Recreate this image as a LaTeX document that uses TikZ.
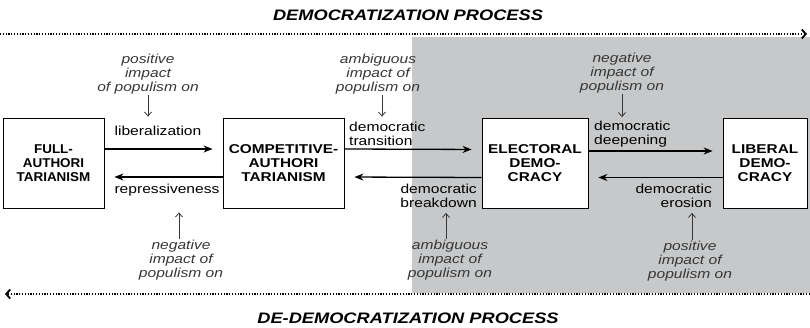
\documentclass[tikz,border=0pt]{standalone}
\usepackage{fontspec}
\setmainfont[FakeStretch=1.2]{Liberation Sans}
\newfontfamily\narrowsans[FakeStretch=1.05]{Liberation Sans}
\usetikzlibrary{arrows.meta,positioning}

\begin{document}
\begin{tikzpicture}[x=1pt, y=-1pt, >={Stealth[length=9pt,width=7pt]}]

        \def\boxh{90}           % height of the regime boxes
        \def\upper{14}          % forward arrows sit this far above the box middle
        \definecolor{panelgray}{RGB}{198,200,202}
        \definecolor{impactgray}{RGB}{55,55,55}
        \tikzstyle{regime}=[draw=black, line width=0.8pt, fill=white, minimum height=\boxh, align=center, inner sep=2pt, font=\fontsize{12.8}{14}\selectfont\bfseries]
        \tikzstyle{edgetext}=[inner sep=3pt, font=\fontsize{13}{13.5}\selectfont]
        \tikzstyle{impact}=[inner sep=1pt, align=center, text=impactgray, font=\fontsize{13}{14}\selectfont\itshape]
        \tikzstyle{heading}=[font=\fontsize{15.2}{18}\selectfont\bfseries\itshape]
        \tikzset{flow/.style = {->, line width=1.3pt, shorten >=10pt}}
        \tikzset{nudge/.style = {-{Straight Barb[length=4pt,width=7pt]}, line width=0.8pt, draw=impactgray}}
        \tikzset{process/.style = {-{Straight Barb[length=4pt,width=9pt,line width=1.8pt]}, line width=1.2pt, dash pattern=on 1.2pt off 1.6pt}}

        \useasboundingbox (0,0) rectangle (810,328);

        % Shaded democratic half
        \fill[panelgray] (412,37) rectangle (810,293);

        % Process headings and dotted timelines
        \node[heading] (demtitle) at (408,15) {DEMOCRATIZATION PROCESS};
        \node[heading] (dedemtitle) at (408,318) {DE-DEMOCRATIZATION PROCESS};
        \coordinate (dem-a) at (0,34);
        \coordinate (dem-b) at (807,34);
        \coordinate (dedem-a) at (810,294);
        \coordinate (dedem-b) at (5,294);
        \draw[process] (dem-a) -- (dem-b);
        \draw[process] (dedem-a) -- (dedem-b);

        % Draw the regime boxes
        \node[regime, minimum width=101, font=\narrowsans\fontsize{12.8}{14}\selectfont\bfseries] (full) at (53.5,163) {FULL-\\AUTHORI\\TARIANISM};
        \node[regime, minimum width=121] (comp) at (283.5,163) {COMPETITIVE-\\AUTHORI\\TARIANISM};
        \node[regime, minimum width=106] (elect) at (535,163.5) {ELECTORAL\\DEMO-\\CRACY};
        \node[regime, minimum width=84] (libdem) at (765,163.5) {LIBERAL\\DEMO-\\CRACY};

        % Transitions between regimes
        \draw[flow] ([yshift=\upper]full.east) -- ([yshift=\upper]comp.west);
        \draw[flow] ([yshift=-\upper]comp.west) -- ([yshift=-\upper]full.east);
        \draw[flow] ([yshift=\upper]comp.east) -- ([yshift=\upper]elect.west);
        \draw[flow] ([yshift=-\upper]elect.west) -- ([yshift=-\upper]comp.east);
        \draw[flow] ([yshift=12.5]elect.east) -- ([yshift=12.5]libdem.west);
        \draw[flow] ([yshift=-\upper]libdem.west) -- ([yshift=-\upper]elect.east);

        \node[edgetext] (libz) at (158,131) {liberalization};
        \node[edgetext] (repr) at (167,190) {repressiveness};
        \node[edgetext, anchor=west, align=left] (trans) at (346,134) {democratic\\transition};
        \node[edgetext, anchor=east, align=right] (brk) at (480,196) {democratic\\breakdown};
        \node[edgetext, anchor=west, align=left] (deep) at (591,134) {democratic\\deepening};
        \node[edgetext, anchor=east, align=right] (eros) at (715,196) {democratic\\erosion};

        % Impact of populism on each transition
        \node[impact] (pos1) at (148,74) {positive\\impact\\of populism on};
        \node[impact] (amb1) at (378,74) {ambiguous\\impact of\\populism on};
        \node[impact] (neg1) at (622,73) {negative\\impact of\\populism on};
        \node[impact] (neg2) at (181,260) {negative\\impact of\\populism on};
        \node[impact] (amb2) at (450,260) {ambiguous\\impact of\\populism on};
        \node[impact] (pos2) at (690,261) {positive\\impact of\\populism on};

        \draw[nudge, shorten >=1pt] (pos1.south) -- (pos1.south |- full.north);
        \draw[nudge, shorten >=1pt] ([xshift=4]amb1.south) -- ([xshift=4]amb1.south |- comp.north);
        \draw[nudge, shorten >=1pt] (neg1.south) -- (neg1.south |- elect.north);
        \draw[nudge, shorten >=4pt] ([xshift=-2]neg2.north) -- ([xshift=-2]neg2.north |- full.south);
        \draw[nudge, shorten >=4pt] ([xshift=-4]amb2.north) -- ([xshift=-4]amb2.north |- elect.south);
        \draw[nudge, shorten >=4pt] ([xshift=2]pos2.north) -- ([xshift=2]pos2.north |- libdem.south);

\end{tikzpicture}
\end{document}
